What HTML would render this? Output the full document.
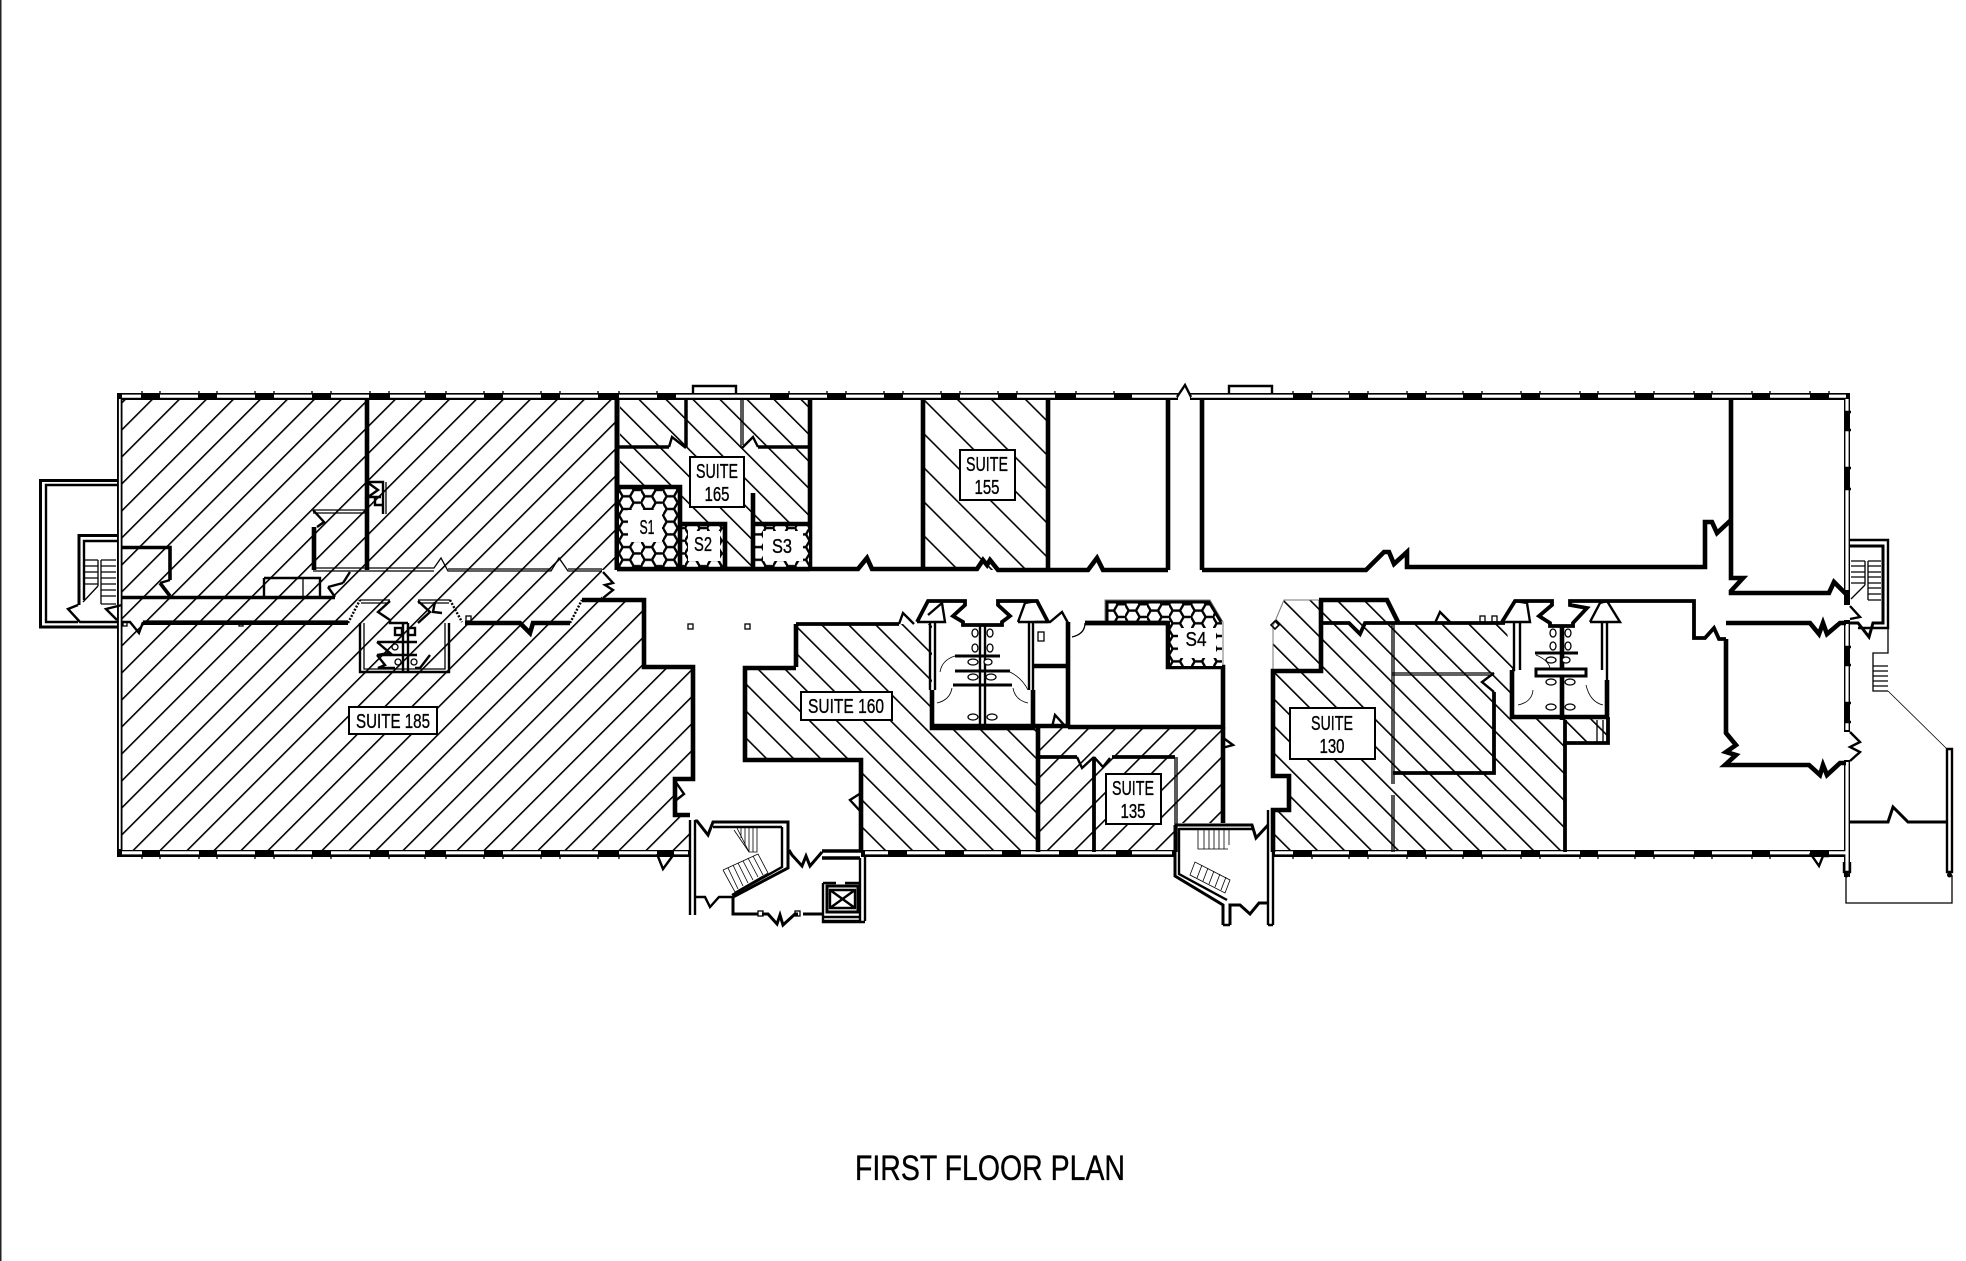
<!DOCTYPE html>
<html><head><meta charset="utf-8"><title>First Floor Plan</title>
<style>
html,body{margin:0;padding:0;background:#fff}
svg{display:block}
.a{fill:none;stroke:#000;stroke-width:4.6;stroke-linejoin:miter}
.b{fill:none;stroke:#000;stroke-width:2.4}
.c{fill:none;stroke:#000;stroke-width:1.3}
.d{fill:none;stroke:#000;stroke-width:.8}
.g{fill:none;stroke:#777;stroke-width:1}
.s{fill:none;stroke:#fff;stroke-width:3.2}
.f{fill:#fff;stroke:#000;stroke-width:2}
text{font-family:"Liberation Sans",sans-serif;fill:#000;stroke:#000;stroke-width:.35;text-anchor:middle}
</style></head><body>
<svg width="1966" height="1261" viewBox="0 0 1966 1261" xmlns="http://www.w3.org/2000/svg">
<defs>
<pattern id="h1" patternUnits="userSpaceOnUse" width="19.09" height="20" patternTransform="rotate(45) translate(7.5 0)"><rect width="1.6" height="20" fill="#000"/></pattern>
<pattern id="h2" patternUnits="userSpaceOnUse" width="19.09" height="20" patternTransform="rotate(-45) translate(15.9 0)"><rect width="1.6" height="20" fill="#000"/></pattern>
<pattern id="h4" patternUnits="userSpaceOnUse" width="24.04" height="20" patternTransform="rotate(-45) translate(9.2 0)"><rect width="1.6" height="20" fill="#000"/></pattern>
<pattern id="h5" patternUnits="userSpaceOnUse" width="19.09" height="20" patternTransform="rotate(-45) translate(4.8 0)"><rect width="1.6" height="20" fill="#000"/></pattern>
<pattern id="h3" patternUnits="userSpaceOnUse" width="19.09" height="20" patternTransform="rotate(45) translate(4.95 0)"><rect width="1.6" height="20" fill="#000"/></pattern>
<pattern id="hx" patternUnits="userSpaceOnUse" width="22" height="12.7" patternTransform="translate(3 1)">
<path d="M0 6.35L3.65 0H11L14.65 6.35L11 12.7H3.65ZM14.65 6.35H22" fill="none" stroke="#000" stroke-width="2.4"/></pattern>
</defs>
<rect width="1966" height="1261" fill="#fff"/>
<rect x="0" y="0" width="1.5" height="1261" fill="#222"/>

<!-- hatch regions -->
<path fill="url(#h1)" d="M122 399H617V570H602V600H644V667H693V779H675V815H690V852H122Z"/>
<path fill="url(#h2)" d="M620 399H810V569H620Z"/>
<path fill="url(#h4)" d="M923 399H1048V570H923Z"/>
<path fill="url(#h5)" d="M796 624H932V727H1038V852H861V760H745V668H796Z"/>
<path fill="url(#h3)" d="M1038 727H1222V823H1175V852H1038Z"/>
<path fill="url(#h5)" d="M1273 626L1284 600H1387L1398 622H1505L1514 670V717H1608V743H1565V852H1273V810H1289V776H1273Z"/>

<!-- outer walls -->
<path d="M117 393H1850V400H117Z" fill="#000"/>
<path d="M117 393H122.5V857H117Z" fill="#000"/>
<path d="M117 850H690V857H117Z" fill="#000"/>
<path d="M861 850H1175V857H861Z" fill="#000"/>
<path d="M1273 850H1850V857H1273Z" fill="#000"/>
<path d="M1844 393H1850V605H1844Z" fill="#000"/>
<path d="M1844 620H1850V732H1844Z" fill="#000"/>
<path d="M1844 760H1850V877H1844Z" fill="#000"/>
<path class="s" d="M122 396.2H141M160 396.2H198M217 396.2H255M274 396.2H312M331 396.2H369M390 396.2H425M446 396.2H484M503 396.2H541M560 396.2H598M619 396.2H657M676 396.2H770M789 396.2H827M846 396.2H884M903 396.2H941M960 396.2H998M1017 396.2H1055M1076 396.2H1114M1132 396.2H1177M1191 396.2H1293M1312 396.2H1349M1368 396.2H1407M1426 396.2H1463M1482 396.2H1521M1540 396.2H1580M1598 396.2H1635M1654 396.2H1694M1712 396.2H1752M1770 396.2H1810M1829 396.2H1846"/>
<path class="s" d="M122 852.8H142M160 852.8H199M217 852.8H255M274 852.8H312M331 852.8H370M389 852.8H425M446 852.8H484M503 852.8H541M560 852.8H598M619 852.8H657M674 852.8H688M865 852.8H888M907 852.8H945M964 852.8H1002M1021 852.8H1059M1078 852.8H1116M1132 852.8H1172M1275 852.8H1293M1312 852.8H1349M1368 852.8H1407M1426 852.8H1463M1482 852.8H1521M1540 852.8H1580M1598 852.8H1635M1654 852.8H1694M1712 852.8H1752M1770 852.8H1810M1829 852.8H1846"/>
<path class="c" d="M142 857v2M160 857v2M199 857v2M217 857v2M255 857v2M274 857v2M312 857v2M331 857v2M370 857v2M389 857v2M425 857v2M446 857v2M484 857v2M503 857v2M541 857v2M560 857v2M598 857v2M619 857v2M1293 857v2M1312 857v2M1349 857v2M1368 857v2M1407 857v2M1426 857v2M1463 857v2M1482 857v2M1521 857v2M1540 857v2M1580 857v2M1598 857v2M1635 857v2M1654 857v2M1694 857v2M1712 857v2M1752 857v2M1770 857v2"/>
<path class="c" d="M142 391v2M160 391v2M199 391v2M217 391v2M255 391v2M274 391v2M312 391v2M331 391v2M370 391v2M389 391v2M425 391v2M446 391v2M484 391v2M503 391v2M541 391v2M560 391v2M598 391v2M619 391v2M657 391v2M789 391v2M827 391v2M846 391v2M884 391v2M903 391v2M941 391v2M960 391v2M998 391v2M1017 391v2M1055 391v2M1076 391v2M1114 391v2M1293 391v2M1312 391v2M1349 391v2M1368 391v2M1407 391v2M1426 391v2M1463 391v2M1482 391v2M1521 391v2M1540 391v2M1580 391v2M1598 391v2M1635 391v2M1654 391v2M1694 391v2M1712 391v2M1752 391v2M1770 391v2M1810 391v2M1829 391v2"/>
<path d="M119.8 399V849" stroke="#fff" stroke-width="1.8" fill="none"/>
<path class="s" d="M1847 399V412M1847 430V468M1847 489V590M1847 624V647M1847 665V703M1847 722V730M1847 762V877"/>
<path d="M1844 412h7M1844 430h7M1844 468h7M1844 489h7M1844 647h7M1844 665h7M1844 703h7M1844 722h7" class="b"/>
<path fill="#fff" d="M1178 392H1190V400H1178Z"/>
<path class="b" d="M1177 397L1185 385L1191 397M693 393V386H736V393M1229 393V386H1272V393M657 854L663 869L674 854"/>
<path class="b" d="M1810 853L1819 866L1823 856H1829"/>

<!-- left stair tower -->
<path class="a" style="stroke-width:3" d="M117 480.5H40.5V627H117"/>
<path class="b" d="M117 485H46V622H78M85 622H117"/>
<path class="a" style="stroke-width:3" d="M117 535.5H79V605"/>
<path class="b" d="M117 541H84V600M78 605L68 609L80 622H85M122 605L106 609L117 620"/>
<path class="c" d="M84 560H98M84 566H98M84 572H98M84 578H98M84 584H98M101 560H116M101 566H116M101 572H116M101 578H116M101 584H116M101 590H116M101 596H116M101 604H116M98 560V586M101 560V604M98 586L83 602"/>

<!-- suite 185 walls -->
<path class="a" style="stroke-width:3.6" d="M122 547.5H170V580M160 583L170 596M122 597.5H335"/>
<path class="b" d="M160 583L170 580"/>
<path class="b" d="M264 578H320V597M264 578V597"/>
<path class="c" d="M303 578V597"/>
<path class="b" d="M328 587L335 597M328 587L343 583M343 583L350 572"/>
<path class="a" d="M143 622.7H348"/>
<path class="b" d="M122 622H130L139 633L143 622"/>
<rect x="123" y="622" width="4" height="4" class="c" fill="#fff"/>
<rect x="239" y="622" width="4" height="4" class="c" fill="#fff"/>
<path class="a" d="M367 399V570"/>
<path class="a" d="M314 527V570"/>
<path class="b" d="M313 510L324 522L317 527M367 482H383V514M367 482L378 490L368 497H381M375 497V505H382"/>
<path class="c" d="M313 510H367M313 513H367M386 482V514"/>
<path class="c" d="M313 568H434L441 558L448 571H551L559 558L568 571H602M313 571H434M448 569H551M568 569H602"/>
<path class="a" style="stroke-width:5" d="M617 399V570"/>
<path class="b" d="M603 572L613 583L605 585L613 590L603 598"/>
<path class="a" d="M582 600H644V667H693V779H675V815H690"/>
<path class="b" d="M675 781L684 794L675 801"/>
<path class="a" d="M465 623H520L530 633L533 623H570"/>
<path stroke="#000" stroke-width="2.4" stroke-dasharray="2 1.5" fill="none" d="M570 623L582 600M348 623L360 600M450 600L462 622"/>
<path class="c" d="M360 600H390M361 603H388M418 600H450M418 603H449"/>
<path class="b" d="M390 601L378 612L390 620V623H408M418 601L430 612L418 623M435 602L433 612L442 613"/>
<path class="b" d="M360 623V672H449V623"/>
<path class="c" d="M364 623V669H445V623"/>
<rect x="466" y="616" width="5" height="5" class="c" fill="#fff"/>
<path class="b" d="M403 623V672M408 623V672"/>
<path class="b" d="M377 642H417M377 642L390 653L377 655H417M377 655L385 665L378 668H395M430 655L420 668H415"/>
<rect x="395" y="628" width="7" height="7" class="b" fill="#fff"/>
<rect x="408" y="628" width="7" height="7" class="b" fill="#fff"/>
<circle cx="395" cy="647" r="3" class="c" fill="#fff"/>
<circle cx="398" cy="662" r="3" class="c" fill="#fff"/>
<circle cx="414" cy="662" r="3" class="c" fill="#fff"/>

<!-- top row rooms -->
<path class="a" d="M810 399V570M923 399V570M1048 399V570M1168 399V570M1202 399V570"/>
<path class="a" d="M617 569H858L867 558L872 569H977L983 560L987 565L990 560L998 570H1088L1097 558L1103 570H1168"/>
<path class="a" d="M1202 570H1366L1384 552H1389L1394 564L1407 552V567H1705V522H1712L1717 533L1731 520"/>
<path class="a" d="M1731 399V578H1743L1731 591V593H1829L1834 582L1846 594"/>
<path class="a" style="stroke-width:3.5" d="M686 399V447M617 447H669M758 447H810"/>
<path class="b" d="M669 447L672 437L686 448M758 447L753 437L742 448"/>
<path class="c" d="M741 400V448M743 400V445"/>

<!-- storage S1 S2 S3 -->
<rect x="619" y="489" width="61" height="80" fill="#fff"/>
<rect x="619" y="489" width="61" height="80" fill="url(#hx)"/>
<rect x="628" y="510" width="34" height="32" fill="#fff"/>
<rect x="682" y="526" width="42" height="42" fill="#fff"/>
<rect x="682" y="526" width="42" height="42" fill="url(#hx)"/>
<rect x="688" y="531" width="32" height="30" fill="#fff"/>
<rect x="755" y="526" width="54" height="42" fill="#fff"/>
<rect x="755" y="526" width="54" height="42" fill="url(#hx)"/>
<rect x="763" y="531" width="40" height="30" fill="#fff"/>
<path class="a" d="M617 487H680V569M680 524H725V569M753 493V569M753 524H810"/>
<path class="a" d="M617 569H810"/>
<text x="647" y="534" font-size="20" textLength="15" lengthAdjust="spacingAndGlyphs">S1</text>
<text x="703" y="551" font-size="20" textLength="18" lengthAdjust="spacingAndGlyphs">S2</text>
<text x="782" y="553" font-size="20" textLength="20" lengthAdjust="spacingAndGlyphs">S3</text>

<!-- center: toilet 1 -->
<path class="a" style="stroke-width:3.8" d="M917 622L928 601H965V605L953 616L963 622V625H1002V622L1010 616L998 605V601H1037L1048 622"/>
<path class="b" d="M917 622H945L942 603L928 615M1018 622L1025 603L1037 601M1018 622H1048"/>
<path class="b" d="M930 622V690M935 622V690M1029 622V690M1033 622V690"/>
<path class="a" d="M932 690V728H1033V690M932 726H1068"/>
<path class="a" style="stroke-width:3.8" d="M796 624H899"/>
<path class="b" d="M899 624L903 613L914 624"/>
<path class="a" d="M1068 622V727M1033 666H1068"/>
<path class="b" d="M1035 622H1050L1062 612L1068 623M1052 727L1055 715L1066 727"/>
<rect x="1038" y="632" width="6" height="9" class="c" fill="#fff"/>
<path class="b" d="M980 625V726M985 625V726"/>
<path class="a" style="stroke-width:3" d="M955 656H1000M955 671H1010M953 685H1012"/>
<g fill="#fff" stroke="#000" stroke-width="1.3">
<ellipse cx="975" cy="633" rx="3" ry="4"/><ellipse cx="990" cy="633" rx="3" ry="4"/>
<ellipse cx="975" cy="648" rx="3" ry="4"/><ellipse cx="990" cy="648" rx="3" ry="4"/>
<ellipse cx="973" cy="662" rx="5" ry="3"/><ellipse cx="988" cy="662" rx="4" ry="3"/>
<ellipse cx="973" cy="677" rx="5" ry="3"/><ellipse cx="991" cy="677" rx="5" ry="3"/>
<ellipse cx="973" cy="717" rx="5" ry="3"/><ellipse cx="992" cy="717" rx="5" ry="3"/>
</g>
<path class="d" d="M937 703Q950 700 952 688M1028 703Q1015 700 1013 688M955 656Q942 660 940 672M1010 672Q1022 678 1028 690"/>

<!-- main room right of toilet + S4 -->
<path class="a" d="M1085 623H1168V667H1223V727H1068"/>
<path class="c" d="M1072 637Q1085 634 1085 623"/>
<rect x="1106" y="601" width="114" height="21" fill="url(#hx)"/>
<rect x="1170" y="622" width="52" height="44" fill="#fff"/>
<rect x="1170" y="622" width="52" height="44" fill="url(#hx)"/>
<rect x="1178" y="628" width="38" height="30" fill="#fff"/>
<path fill="#fff" d="M1208 600H1224V622Z"/>
<path class="g" d="M1105 622V600H1210L1223 622V665"/>
<path class="a" style="stroke-width:3" d="M1107 622V602H1209L1221 622"/>
<text x="1196" y="646" font-size="20" textLength="21" lengthAdjust="spacingAndGlyphs">S4</text>
<path class="a" d="M1085 623H1168"/>

<!-- suite 135 -->
<path class="a" d="M1038 727V852M1223 727V823"/>
<path class="a" style="stroke-width:3.8" d="M1038 757H1077M1094 757V852M1112 757H1175"/>
<path class="b" d="M1077 757L1082 768L1094 757M1094 757L1103 767L1110 758M1222 737L1233 745L1222 748"/>
<path class="c" d="M1175 757V852M1177 757V852"/>

<!-- suite 160 -->
<path class="a" d="M796 667V624M796 668H745V760H861V852"/>
<path class="b" d="M861 793L850 800L861 812"/>
<rect x="688" y="624" width="5" height="5" class="c" fill="#fff"/>
<rect x="745" y="624" width="5" height="5" class="c" fill="#fff"/>

<!-- left stair / elevator -->
<path class="b" d="M690 820V915M695 820V915"/>
<path class="a" style="stroke-width:3" d="M695 821H697L708 835L713 822H788V868L733 897V914H758M762 914H768L777 924L780 915L783 925L795 914H798M803 914H822"/>
<path class="b" d="M782 827V867L732 895M713 827H782M695 897H705L710 907L719 897H732"/>
<path class="a" style="stroke-width:3" d="M789 850L792 855L802 866L806 856L810 866L822 852"/>
<path class="a" style="stroke-width:3.5" d="M822 851H862M822 858H860"/>
<path class="b" d="M861 790V851M860 858V921M865 856V921M823 883V922H865"/>
<path class="a" d="M827 886H858V912H827Z" style="stroke-width:3"/>
<path class="b" d="M823 883H836M845 883H860M823 921H860M823 917H860"/>
<path class="b" d="M830 890H855V908H830ZM830 890L855 908M855 890L830 908"/>
<rect x="758" y="911" width="5" height="5" class="c" fill="#fff"/>
<rect x="795" y="911" width="5" height="5" class="c" fill="#fff"/>
<path class="d" d="M737 828L749 852H757V828M741 828V838M745 828V845M749 828V852M753 828V852M723 870L758 854L768 873L735 892L723 870M728 868L738 889M733 865L743 886M738 863L748 883M743 861L753 880M748 858L758 877M753 856L763 875"/>
<path class="d" d="M734 830L749 852"/>

<!-- right stair -->
<path class="a" style="stroke-width:3" d="M1175 825V876L1223 905V925M1230 925V905H1240L1250 914L1259 903H1268"/>
<path class="a" style="stroke-width:3" d="M1175 825H1252L1256 838L1268 825"/>
<path class="b" d="M1179 828V874L1227 900M1179 829H1252M1268 810V925M1273 810V925M1223 925H1230M1268 925H1273"/>
<path class="d" d="M1198 829V849H1228M1204 829V849M1209 829V849M1214 829V849M1219 829V849M1224 829V849M1229 829V845M1190 875L1195 862L1230 880L1225 893ZM1197 878L1202 865M1203 881L1208 868M1209 884L1214 871M1215 887L1220 874M1221 890L1226 877"/>

<!-- suite 130 -->
<path class="g" d="M1273 671V626L1284 600H1319"/>
<path d="M1275 621L1279 625L1275 629L1271 625Z" fill="none" stroke="#000" stroke-width="1.6"/>
<path class="a" d="M1319 600H1387L1398 622M1321 600V671H1273V776H1289V810H1273V852"/>
<path class="a" style="stroke-width:3.8" d="M1321 623H1349L1360 634L1365 623H1505"/>
<path class="b" d="M1435 623L1440 612L1451 623"/>
<rect x="1480" y="616" width="5" height="6" class="c" fill="#fff"/>
<rect x="1492" y="616" width="5" height="6" class="c" fill="#fff"/>
<path class="c" d="M1392 623V784M1394 623V784M1392 795V852M1394 795V852M1392 673H1494M1392 675H1490"/>
<path class="a" style="stroke-width:3.8" d="M1494 692V773H1393"/>
<path class="b" d="M1494 673L1482 682L1494 692"/>

<!-- toilet 2 -->
<path class="a" style="stroke-width:3.8" d="M1502 622L1515 601H1552V605L1539 616L1550 623V626H1573V623L1587 608L1570 605V601H1694V638H1705L1714 628L1719 639H1726"/>
<path class="b" d="M1502 622H1530L1527 603L1515 601M1590 622L1600 603L1607 601M1590 622H1620L1607 601"/>
<path class="b" d="M1514 622V670H1512M1520 622V670M1602 622V670M1607 622V680"/>
<path class="a" d="M1512 670V717H1607V680M1562 626V720"/>
<path class="a" style="stroke-width:3" d="M1535 653H1578"/>
<rect x="1536" y="669" width="50" height="7" fill="#fff" stroke="#000" stroke-width="3"/>
<path class="a" style="stroke-width:3.8" d="M1565 720V852M1563 743H1608V717"/>
<path class="c" d="M1597 720V743M1603 720V743"/>
<g fill="#fff" stroke="#000" stroke-width="1.3">
<ellipse cx="1553" cy="633" rx="3" ry="4"/><ellipse cx="1568" cy="633" rx="3" ry="4"/>
<ellipse cx="1553" cy="646" rx="3" ry="4"/><ellipse cx="1568" cy="646" rx="3" ry="4"/>
<ellipse cx="1551" cy="660" rx="5" ry="3"/><ellipse cx="1566" cy="660" rx="4" ry="3"/>
<ellipse cx="1551" cy="682" rx="5" ry="3"/><ellipse cx="1570" cy="682" rx="5" ry="3"/>
<ellipse cx="1551" cy="707" rx="5" ry="3"/><ellipse cx="1570" cy="707" rx="5" ry="3"/>
</g>
<path class="d" d="M1518 705Q1532 702 1533 690M1603 705Q1590 702 1586 685M1536 655Q1548 660 1550 668"/>

<!-- right rooms -->
<path class="a" d="M1726 639V733L1736 745L1726 752L1736 755L1725 765H1809L1820 775L1823 765L1827 775L1840 763H1846"/>
<path class="a" d="M1726 623H1810L1819 634L1823 623L1827 634L1840 623H1846"/>
<path class="b" d="M1850 606L1860 617L1850 619M1850 732L1860 742L1850 747L1860 752L1850 761"/>

<!-- right stair tower & porch -->
<path class="b" d="M1850 540H1888V628H1858"/>
<path class="a" style="stroke-width:3" d="M1850 546H1883V623H1873L1869 637L1858 623H1850"/>
<path class="c" d="M1851 561H1865M1851 566H1865M1851 572H1865M1851 577H1865M1851 583H1865M1868 561H1881M1868 566H1881M1868 572H1881M1868 577H1881M1868 583H1881M1868 588H1881M1868 594H1881M1868 600H1881M1865 561V585M1868 561V600M1865 585L1851 599"/>
<path class="c" d="M1888 628V653H1873V691H1888M1873 666H1888M1873 671H1888M1873 676H1888M1873 681H1888M1873 686H1888"/>
<path class="d" d="M1888 691L1947 749"/>
<path class="b" d="M1947 749H1952V872H1947Z"/>
<path class="a" style="stroke-width:3" d="M1850 822H1888L1893 807L1908 822H1947"/>
<path class="c" d="M1846 875V903H1952V875"/>
<circle cx="1846.5" cy="875" r="2.5" fill="#000"/>
<circle cx="1949.5" cy="875" r="2.5" fill="#000"/>
<path class="b" d="M1844 862V872H1850V862"/>

<!-- labels -->
<rect x="349" y="707" width="88" height="27" class="f"/>
<text x="393" y="728" font-size="20" textLength="74" lengthAdjust="spacingAndGlyphs">SUITE 185</text>
<rect x="690" y="457" width="54" height="50" class="f"/>
<text x="717" y="478" font-size="20" textLength="42" lengthAdjust="spacingAndGlyphs">SUITE</text>
<text x="717" y="501" font-size="20" textLength="25" lengthAdjust="spacingAndGlyphs">165</text>
<rect x="960" y="450" width="55" height="50" class="f"/>
<text x="987" y="471" font-size="20" textLength="42" lengthAdjust="spacingAndGlyphs">SUITE</text>
<text x="987" y="494" font-size="20" textLength="25" lengthAdjust="spacingAndGlyphs">155</text>
<rect x="801" y="692" width="91" height="28" class="f"/>
<text x="846" y="713" font-size="20" textLength="76" lengthAdjust="spacingAndGlyphs">SUITE 160</text>
<rect x="1106" y="774" width="55" height="50" class="f"/>
<text x="1133" y="795" font-size="20" textLength="42" lengthAdjust="spacingAndGlyphs">SUITE</text>
<text x="1133" y="818" font-size="20" textLength="25" lengthAdjust="spacingAndGlyphs">135</text>
<rect x="1290" y="708" width="85" height="51" class="f"/>
<text x="1332" y="730" font-size="20" textLength="42" lengthAdjust="spacingAndGlyphs">SUITE</text>
<text x="1332" y="753" font-size="20" textLength="25" lengthAdjust="spacingAndGlyphs">130</text>
<text x="990" y="1180" font-size="35" textLength="270" lengthAdjust="spacingAndGlyphs">FIRST FLOOR PLAN</text>
</svg>
</body></html>
